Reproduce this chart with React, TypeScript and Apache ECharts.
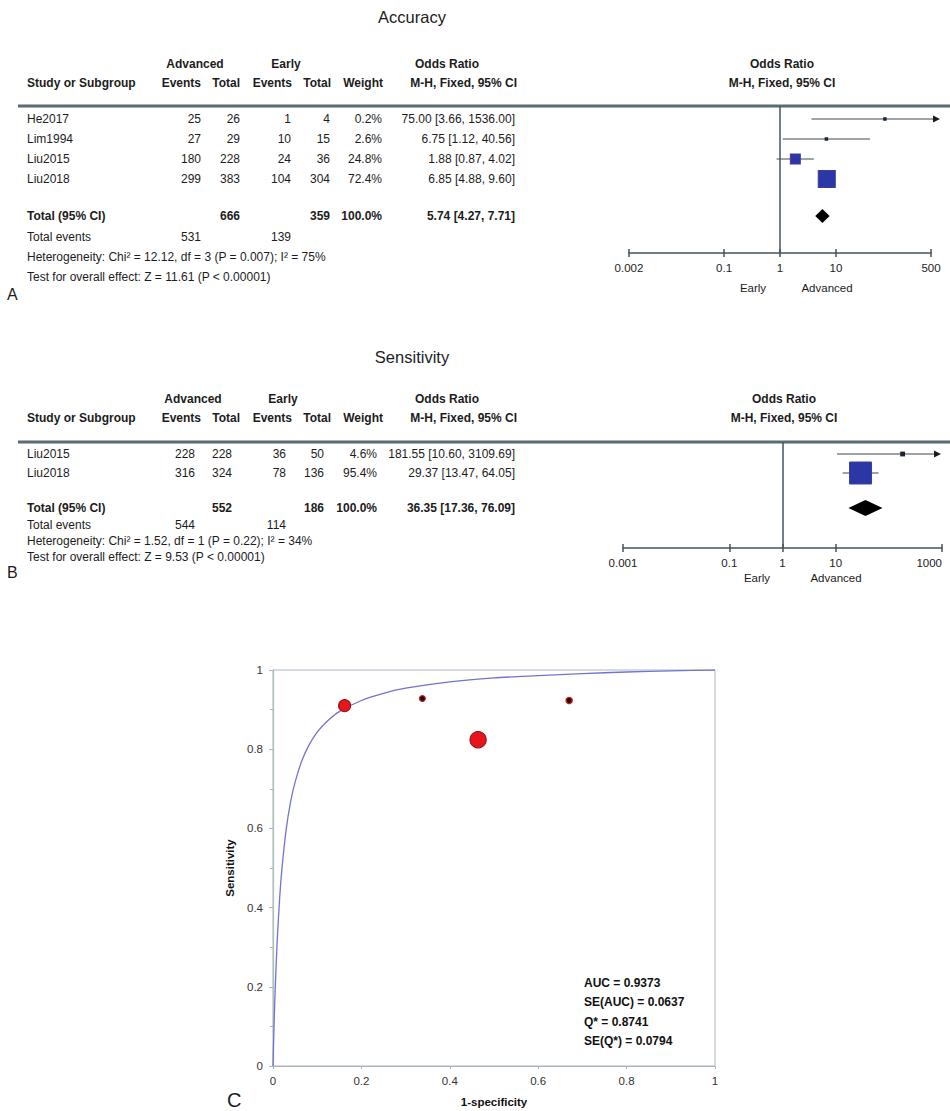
import React, { useEffect, useRef } from 'react';
import * as echarts from 'echarts';

const FONT = '"Liberation Sans", Arial, Helvetica, sans-serif';

// ---------- Panel A : Accuracy ----------
const studiesA = ['He2017', 'Lim1994', 'Liu2015', 'Liu2018'];
const advEventsA = [25, 27, 180, 299];
const advTotalA = [26, 29, 228, 383];
const earlyEventsA = [1, 10, 24, 104];
const earlyTotalA = [4, 15, 36, 304];
const weightA = [0.2, 2.6, 24.8, 72.4];
const orA = [75.0, 6.75, 1.88, 6.85];
const lowA = [3.66, 1.12, 0.87, 4.88];
const highA = [1536.0, 40.56, 4.02, 9.6];
const totalsA = [666, 359];
const totalEventsA = [531, 139];
const pooledA = [5.74, 4.27, 7.71];
const hetA = 'Heterogeneity: Chi² = 12.12, df = 3 (P = 0.007); I² = 75%';
const effectA = 'Test for overall effect: Z = 11.61 (P < 0.00001)';
const ticksA = [0.002, 0.1, 1, 10, 500];

// ---------- Panel B : Sensitivity ----------
const studiesB = ['Liu2015', 'Liu2018'];
const advEventsB = [228, 316];
const advTotalB = [228, 324];
const earlyEventsB = [36, 78];
const earlyTotalB = [50, 136];
const weightB = [4.6, 95.4];
const orB = [181.55, 29.37];
const lowB = [10.6, 13.47];
const highB = [3109.69, 64.05];
const totalsB = [552, 186];
const totalEventsB = [544, 114];
const pooledB = [36.35, 17.36, 76.09];
const hetB = 'Heterogeneity: Chi² = 1.52, df = 1 (P = 0.22); I² = 34%';
const effectB = 'Test for overall effect: Z = 9.53 (P < 0.00001)';
const ticksB = [0.001, 0.1, 1, 10, 1000];

// ---------- Panel C : SROC ----------
const curveFpr = [0, 0.001, 0.002, 0.004, 0.006, 0.01, 0.015, 0.02, 0.03, 0.04, 0.05, 0.065, 0.08, 0.1, 0.125, 0.15, 0.2, 0.25, 0.3, 0.4, 0.5, 0.6, 0.7, 0.8, 0.9, 1.0];
const curveSens = [0, 0.046, 0.088, 0.162, 0.225, 0.327, 0.423, 0.496, 0.599, 0.668, 0.717, 0.77, 0.807, 0.843, 0.873, 0.895, 0.923, 0.941, 0.954, 0.97, 0.98, 0.986, 0.991, 0.995, 0.998, 1.0];
const studyFpr = [0.162, 0.338, 0.464, 0.67];
const studySens = [0.91, 0.928, 0.824, 0.923];
const studyWeight = [0.3, 0.07, 0.55, 0.08];
const statsC = ['AUC = 0.9373', 'SE(AUC) = 0.0637', 'Q* = 0.8741', 'SE(Q*) = 0.0794'];
const ticksC = [0, 0.2, 0.4, 0.6, 0.8, 1];

type Layout = {
  gridLeft: number; gridRight: number; gridTop: number; gridBottom: number;
  rowFirst: number; rowStep: number; totalY: number; footY: number[];
  titleY: number; head1Y: number; head2Y: number; cols: number[]; headCols: number[];
  groupHead: number[]; plotHeadX: number; earlyX: number; advX: number; earlyY: number;
  letterY: number; sizeK: number; diamondH: number; arrowLine: number; arrowTip: number;
  alignMax: string;
};

const layoutA: Layout = {
  gridLeft: 629, gridRight: 931, gridTop: 106, gridBottom: 253,
  rowFirst: 119, rowStep: 20, totalY: 216, footY: [237, 257, 277],
  titleY: 17, head1Y: 64, head2Y: 83, cols: [201, 240, 291, 330, 382, 515], headCols: [201, 240, 292, 331, 383, 517],
  groupHead: [195, 286, 447], plotHeadX: 782, earlyX: 753, advX: 827, earlyY: 288,
  letterY: 294, sizeK: 2, diamondH: 7, arrowLine: 4, arrowTip: 9, alignMax: 'center',
};
const layoutB: Layout = {
  gridLeft: 623, gridRight: 942, gridTop: 442, gridBottom: 548,
  rowFirst: 454, rowStep: 19, totalY: 508, footY: [525, 541, 557],
  titleY: 357, head1Y: 399, head2Y: 418, cols: [195, 232, 286, 324, 377, 515], headCols: [201, 240, 292, 331, 383, 517],
  groupHead: [193, 283, 447], plotHeadX: 784, earlyX: 757, advX: 836, earlyY: 578,
  letterY: 572, sizeK: 2.25, diamondH: 8, arrowLine: -5, arrowTip: -1, alignMax: 'right',
};

const TXT = '#1c1c1c';
const AX = '#46545c';

function txt(text: string, x: number, y: number, o: any = {}) {
  return {
    type: 'text',
    x, y,
    silent: true,
    style: {
      text,
      fill: o.fill || TXT,
      fontSize: o.size || 12,
      fontWeight: o.bold ? 'bold' : 'normal',
      fontFamily: FONT,
      align: o.align || 'left',
      verticalAlign: 'middle',
    },
  };
}

const fmtOR = (o: number, l: number, h: number) => `${o.toFixed(2)} [${l.toFixed(2)}, ${h.toFixed(2)}]`;

function tableGraphics(L: Layout, title: string, letter: string, studies: string[], advE: number[], advT: number[], earE: number[], earT: number[], w: number[], or: number[], lo: number[], hi: number[], totals: number[], totEv: number[], pooled: number[], het: string, eff: string) {
  const g: any[] = [];
  g.push(txt(title, 412, L.titleY, { size: 16.5, align: 'center' }));
  g.push(txt('Advanced', L.groupHead[0], L.head1Y, { bold: true, align: 'center' }));
  g.push(txt('Early', L.groupHead[1], L.head1Y, { bold: true, align: 'center' }));
  g.push(txt('Odds Ratio', L.groupHead[2], L.head1Y, { bold: true, align: 'center' }));
  g.push(txt('Odds Ratio', L.plotHeadX, L.head1Y, { bold: true, align: 'center' }));
  g.push(txt('Study or Subgroup', 27, L.head2Y, { bold: true }));
  const h2 = ['Events', 'Total', 'Events', 'Total', 'Weight', 'M-H, Fixed, 95% CI'];
  h2.forEach((s, i) => g.push(txt(s, L.headCols[i], L.head2Y, { bold: true, align: 'right' })));
  g.push(txt('M-H, Fixed, 95% CI', L.plotHeadX, L.head2Y, { bold: true, align: 'center' }));
  g.push({ type: 'rect', silent: true, shape: { x: 18, y: L.gridTop - 1.5, width: 932, height: 3 }, style: { fill: '#5d6b73' } });
  studies.forEach((s, i) => {
    const y = L.rowFirst + i * L.rowStep;
    g.push(txt(s, 27, y));
    const vals = [String(advE[i]), String(advT[i]), String(earE[i]), String(earT[i]), `${w[i].toFixed(1)}%`, fmtOR(or[i], lo[i], hi[i])];
    vals.forEach((v, k) => g.push(txt(v, L.cols[k], y, { align: 'right' })));
  });
  g.push(txt('Total (95% CI)', 27, L.totalY, { bold: true }));
  g.push(txt(String(totals[0]), L.cols[1], L.totalY, { bold: true, align: 'right' }));
  g.push(txt(String(totals[1]), L.cols[3], L.totalY, { bold: true, align: 'right' }));
  g.push(txt('100.0%', L.cols[4], L.totalY, { bold: true, align: 'right' }));
  g.push(txt(fmtOR(pooled[0], pooled[1], pooled[2]), L.cols[5], L.totalY, { bold: true, align: 'right' }));
  g.push(txt('Total events', 27, L.footY[0]));
  g.push(txt(String(totEv[0]), L.cols[0], L.footY[0], { align: 'right' }));
  g.push(txt(String(totEv[1]), L.cols[2], L.footY[0], { align: 'right' }));
  g.push(txt(het, 27, L.footY[1]));
  g.push(txt(eff, 27, L.footY[2]));
  g.push(txt('Early', L.earlyX, L.earlyY, { size: 11.5, align: 'center' }));
  g.push(txt('Advanced', L.advX, L.earlyY, { size: 11.5, align: 'center' }));
  g.push(txt(letter, 7, L.letterY, { size: 16 }));
  return g;
}

function forestAxes(L: Layout, ticks: number[], gridIndex: number) {
  const lg = ticks.map((t) => Math.log10(t));
  const min = lg[0];
  const max = lg[lg.length - 1];
  const fmt = (v: number) => {
    const t = ticks.find((tt) => Math.abs(Math.log10(tt) - v) < 1e-6);
    return t === undefined ? '' : String(t);
  };
  const main = {
    type: 'value', gridIndex, min, max, position: 'bottom',
    axisLine: { show: true, onZero: false, lineStyle: { color: AX, width: 1.5 } },
    axisTick: { show: true, length: 4, customValues: lg, lineStyle: { color: AX, width: 1.5 } },
    axisLabel: { show: true, customValues: lg, formatter: fmt, margin: 9, color: '#222', fontSize: 11.5, fontFamily: FONT, alignMaxLabel: L.alignMax },
    splitLine: { show: false },
  };
  const inner = {
    type: 'value', gridIndex, min, max, position: 'bottom',
    axisLine: { show: false, onZero: false },
    axisTick: { show: true, inside: true, length: 4, customValues: lg, lineStyle: { color: AX, width: 1.5 } },
    axisLabel: { show: false },
    splitLine: { show: false },
  };
  const yMin = -(L.rowFirst - L.gridTop) / L.rowStep;
  const yMax = yMin + (L.gridBottom - L.gridTop) / L.rowStep;
  const y = { type: 'value', gridIndex, min: yMin, max: yMax, inverse: true, show: false };
  return { main, inner, y, max };
}

function forestSeries(L: Layout, xi: number, yi: number, axMax: number, w: number[], or: number[], lo: number[], hi: number[], pooled: number[]) {
  const totalRow = (L.totalY - L.rowFirst) / L.rowStep;
  const ci = {
    type: 'custom', xAxisIndex: xi, yAxisIndex: yi, z: 1, silent: true,
    data: lo.map((l, i) => [Math.log10(l), Math.log10(hi[i]), i]),
    renderItem: (params: any, api: any) => {
      const a = api.value(0), b = api.value(1), r = api.value(2);
      const clipped = b > axMax;
      const p1 = api.coord([a, r]);
      const p2 = api.coord([clipped ? axMax : b, r]);
      const endX = clipped ? p2[0] + L.arrowLine : p2[0];
      const ch: any[] = [
        { type: 'line', shape: { x1: p1[0], y1: p1[1], x2: endX, y2: p2[1] }, style: { stroke: '#3c4a52', lineWidth: 1.2 } },
      ];
      if (clipped) {
        const tx = p2[0] + L.arrowTip;
        ch.push({ type: 'polygon', shape: { points: [[tx, p2[1]], [tx - 7, p2[1] - 3.5], [tx - 7, p2[1] + 3.5]] }, style: { fill: '#1c1c1c' } });
      }
      return { type: 'group', children: ch };
    },
  };
  const sq = {
    type: 'scatter', xAxisIndex: xi, yAxisIndex: yi, z: 3, silent: true, symbol: 'rect',
    data: or.map((o, i) => {
      const s = Math.max(3.5, L.sizeK * Math.sqrt(w[i]));
      return {
        value: [Math.log10(o), i],
        symbolSize: s,
        itemStyle: s < 6
          ? { color: '#1e2430', borderWidth: 0, opacity: 1 }
          : { color: '#2a37a4', borderColor: '#3d3c9c', borderWidth: 1, opacity: 1 },
      };
    }),
    markLine: {
      silent: true, symbol: ['none', 'none'], label: { show: false },
      lineStyle: { color: AX, width: 1.5, type: 'solid' },
      data: [{ xAxis: 0 }],
    },
  };
  const dia = {
    type: 'custom', xAxisIndex: xi, yAxisIndex: yi, z: 3, silent: true,
    data: [[Math.log10(pooled[1]), Math.log10(pooled[0]), Math.log10(pooled[2]), totalRow]],
    renderItem: (params: any, api: any) => {
      const r = api.value(3);
      const pl = api.coord([api.value(0), r]);
      const pc = api.coord([api.value(1), r]);
      const ph = api.coord([api.value(2), r]);
      const h = L.diamondH;
      return {
        type: 'polygon',
        shape: { points: [[pl[0], pl[1]], [pc[0], pc[1] - h], [ph[0], ph[1]], [pc[0], pc[1] + h]] },
        style: { fill: '#000' },
      };
    },
  };
  return [ci, sq, dia];
}

export default function App() {
  const ref = useRef<HTMLDivElement>(null);
  useEffect(() => {
    if (!ref.current) return;
    const chart = echarts.init(ref.current, null, { renderer: 'svg' });
    const axA = forestAxes(layoutA, ticksA, 0);
    const axB = forestAxes(layoutB, ticksB, 1);
    const grid = (L: Layout) => ({
      left: L.gridLeft, top: L.gridTop, width: L.gridRight - L.gridLeft, height: L.gridBottom - L.gridTop,
      containLabel: false, outerBoundsMode: 'none',
    });
    const rocLeft = 273, rocTop = 670, rocW = 442, rocH = 396;
    const graphics = [
      ...tableGraphics(layoutA, 'Accuracy', 'A', studiesA, advEventsA, advTotalA, earlyEventsA, earlyTotalA, weightA, orA, lowA, highA, totalsA, totalEventsA, pooledA, hetA, effectA),
      ...tableGraphics(layoutB, 'Sensitivity', 'B', studiesB, advEventsB, advTotalB, earlyEventsB, earlyTotalB, weightB, orB, lowB, highB, totalsB, totalEventsB, pooledB, hetB, effectB),
      ...statsC.map((s, i) => txt(s, 584, 983 + i * 19.3, { bold: true, size: 12, fill: '#111' })),
      txt('C', 227, 1100, { size: 20 }),
    ];
    const option: any = {
      animation: false,
      backgroundColor: '#ffffff',
      textStyle: { fontFamily: FONT },
      grid: [
        grid(layoutA),
        grid(layoutB),
        { left: rocLeft, top: rocTop, width: rocW, height: rocH, show: true, borderColor: '#aab6c2', borderWidth: 1, containLabel: false, outerBoundsMode: 'none' },
      ],
      xAxis: [
        axA.main, axA.inner, axB.main, axB.inner,
        {
          type: 'value', gridIndex: 2, min: ticksC[0], max: ticksC[ticksC.length - 1], interval: 0.2,
          name: '1-specificity', nameLocation: 'middle', nameGap: 30,
          nameTextStyle: { fontWeight: 'bold', fontSize: 11.5, color: '#111', fontFamily: FONT },
          axisLine: { onZero: false, lineStyle: { color: '#a9b5c2', width: 1 } },
          axisTick: { show: true, length: 3, lineStyle: { color: '#a9b5c2' } },
          axisLabel: { color: '#333', fontSize: 11.5, margin: 9, fontFamily: FONT },
          splitLine: { show: false },
        },
      ],
      yAxis: [
        axA.y, axB.y,
        {
          type: 'value', gridIndex: 2, min: ticksC[0], max: ticksC[ticksC.length - 1], interval: 0.2,
          name: 'Sensitivity', nameLocation: 'middle', nameGap: 37,
          nameTextStyle: { fontWeight: 'bold', fontSize: 11.5, color: '#111', fontFamily: FONT },
          axisLine: { onZero: false, lineStyle: { color: '#aac2bc', width: 1.2 } },
          axisTick: { show: true, length: 4, lineStyle: { color: '#a9b5c2' } },
          minorTick: { show: true, splitNumber: 2, length: 3, lineStyle: { color: '#a9b5c2' } },
          axisLabel: { color: '#333', fontSize: 11.5, margin: 10, fontFamily: FONT },
          splitLine: { show: false },
        },
      ],
      series: [
        ...forestSeries(layoutA, 0, 0, axA.max, weightA, orA, lowA, highA, pooledA),
        ...forestSeries(layoutB, 2, 1, axB.max, weightB, orB, lowB, highB, pooledB),
        {
          type: 'line', xAxisIndex: 4, yAxisIndex: 2, silent: true, symbol: 'none', smooth: 0.2,
          lineStyle: { color: '#7373d2', width: 1.3 },
          data: curveFpr.map((x, i) => [x, curveSens[i]]),
          z: 2,
        },
        {
          type: 'scatter', xAxisIndex: 4, yAxisIndex: 2, silent: true, z: 3,
          data: studyFpr.map((x, i) => {
            const s = 22 * Math.sqrt(studyWeight[i]);
            return {
              value: [x, studySens[i]],
              symbolSize: s,
              itemStyle: s < 8
                ? { color: '#1a0303', borderColor: '#c81e1e', borderWidth: 1.3, opacity: 1 }
                : { color: '#e8161c', borderColor: '#8c1010', borderWidth: 1, opacity: 1 },
            };
          }),
        },
      ],
      graphic: graphics,
    };
    chart.setOption(option);
    return () => chart.dispose();
  }, []);
  return <div ref={ref} style={{ position: 'absolute', left: 0, top: 0, width: 950, height: 1111, background: '#fff' }} />;
}
